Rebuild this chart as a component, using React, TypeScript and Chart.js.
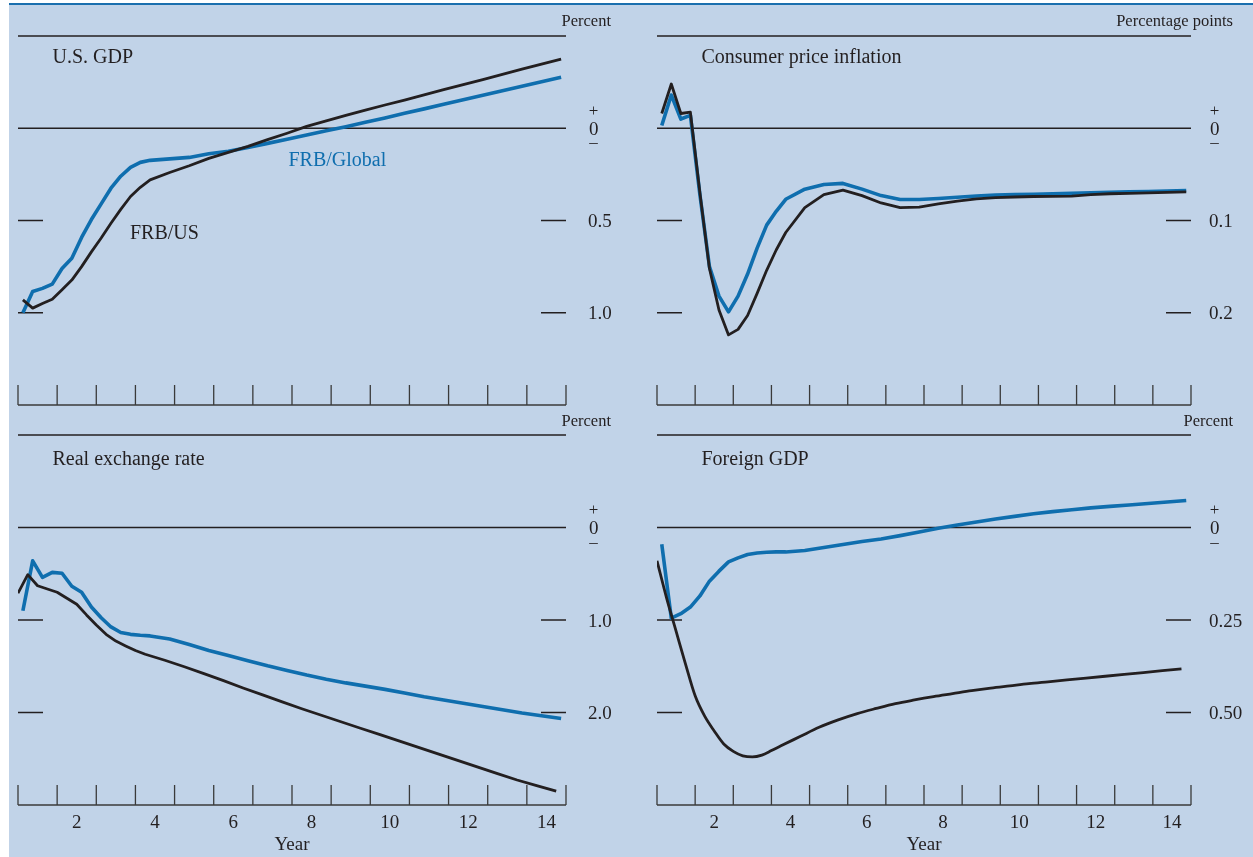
import React, { useEffect, useRef } from "react";
import { Chart, registerables } from "chart.js";

Chart.register(...registerables);

// ---------- data ----------
// quarterly early, then semi-annual sample points (years after shock)
const GRID_A = [
  0.625, 0.875, 1.125, 1.375, 1.625, 1.875, 2.125, 2.375, 2.625, 2.875, 3.125, 3.375, 3.625, 3.875,
  4.375, 4.875, 5.375, 5.875, 6.375, 6.875, 7.375, 7.875, 8.375, 8.875, 9.375, 9.875, 10.375,
  10.875, 11.375, 11.875, 12.375, 12.875, 13.375, 13.875, 14.375,
];
const GRID_B = [
  0.5, 0.75, 1.0, 1.25, 1.5, 1.75, 2.0, 2.25, 2.5, 2.75, 3.0, 3.25, 3.5, 3.75,
  4.25, 4.75, 5.25, 5.75, 6.25, 6.75, 7.25, 7.75, 8.25, 8.75, 9.25, 9.75, 10.25,
  10.75, 11.25, 11.75, 12.25, 12.75, 13.25, 13.75, 14.25,
];

const X_TICKS = [0.5, 1.5, 2.5, 3.5, 4.5, 5.5, 6.5, 7.5, 8.5, 9.5, 10.5, 11.5, 12.5, 13.5, 14.5];
const YEAR_LABELS = [2, 4, 6, 8, 10, 12, 14];

const US_GDP_FRBUS = [
  -0.93, -0.975, -0.95, -0.927, -0.875, -0.823, -0.75, -0.67, -0.595, -0.515, -0.44, -0.37, -0.32, -0.28,
  -0.24, -0.203, -0.163, -0.131, -0.098, -0.062, -0.027, 0.01, 0.04, 0.07, 0.098, 0.126, 0.153,
  0.181, 0.209, 0.237, 0.264, 0.292, 0.32, 0.348, 0.375,
];
const US_GDP_GLOBAL = [
  -1.0, -0.885, -0.868, -0.845, -0.76, -0.705, -0.592, -0.495, -0.41, -0.325, -0.26, -0.212, -0.185, -0.174,
  -0.166, -0.158, -0.138, -0.125, -0.104, -0.082, -0.059, -0.036, -0.014, 0.008, 0.032, 0.056, 0.081,
  0.105, 0.13, 0.155, 0.179, 0.203, 0.228, 0.252, 0.276,
];

const CPI_FRBUS = [
  0.016, 0.048, 0.016, 0.0175, -0.07, -0.152, -0.197, -0.224, -0.218, -0.203, -0.179, -0.154, -0.132, -0.113,
  -0.086, -0.072, -0.067, -0.073, -0.081, -0.086, -0.0855, -0.082, -0.079, -0.0765, -0.0752, -0.0745, -0.074,
  -0.0738, -0.0735, -0.072, -0.071, -0.0705, -0.07, -0.0695, -0.069,
];
const CPI_GLOBAL = [
  0.003, 0.036, 0.01, 0.014, -0.072, -0.15, -0.182, -0.199, -0.182, -0.158, -0.13, -0.105, -0.09, -0.077,
  -0.066, -0.061, -0.0598, -0.066, -0.073, -0.0772, -0.0772, -0.0762, -0.0748, -0.0735, -0.0725, -0.072, -0.0715,
  -0.071, -0.0705, -0.07, -0.0695, -0.069, -0.0685, -0.068, -0.0675,
];

const RER_FRBUS = [
  -0.71, -0.51, -0.63, -0.665, -0.7, -0.765, -0.83, -0.945, -1.055, -1.155, -1.228, -1.28, -1.33, -1.37,
  -1.435, -1.505, -1.58, -1.655, -1.735, -1.81, -1.885, -1.96, -2.03, -2.1, -2.17, -2.24, -2.31,
  -2.38, -2.45, -2.52, -2.59, -2.66, -2.73, -2.79, -2.85,
];
const RER_GLOBAL = [
  -0.9, -0.36, -0.54, -0.485, -0.495, -0.635, -0.7, -0.86, -0.975, -1.075, -1.135, -1.155, -1.165, -1.172,
  -1.205, -1.265, -1.33, -1.385, -1.44, -1.495, -1.545, -1.595, -1.64, -1.68, -1.715, -1.75, -1.79,
  -1.83, -1.865, -1.9, -1.935, -1.97, -2.005, -2.035, -2.065,
];

const FGDP_FRBUS = [
  -0.09, -0.19, -0.28, -0.37, -0.455, -0.51, -0.55, -0.585, -0.605, -0.617, -0.62, -0.615, -0.603, -0.59,
  -0.565, -0.54, -0.52, -0.503, -0.489, -0.476, -0.466, -0.457, -0.449, -0.441, -0.434, -0.428, -0.422,
  -0.417, -0.412, -0.407, -0.402, -0.397, -0.392, -0.387, -0.382,
];
const FGDP_GLOBAL = [
  -0.045, -0.245, -0.233, -0.215, -0.185, -0.145, -0.118, -0.093, -0.082, -0.073, -0.069, -0.067, -0.066, -0.066,
  -0.062, -0.054, -0.046, -0.038, -0.031, -0.022, -0.012, -0.002, 0.007, 0.015, 0.023, 0.03, 0.037,
  0.043, 0.048, 0.053, 0.057, 0.061, 0.065, 0.069, 0.073,
];

const US_GDP_TICKS = [-0.5, -1.0];
const US_GDP_TICK_LABELS = ["0.5", "1.0"];
const CPI_TICKS = [-0.1, -0.2];
const CPI_TICK_LABELS = ["0.1", "0.2"];
const RER_TICKS = [-1.0, -2.0];
const RER_TICK_LABELS = ["1.0", "2.0"];
const FGDP_TICKS = [-0.25, -0.5];
const FGDP_TICK_LABELS = ["0.25", "0.50"];

// ---------- style ----------
const BG = "#c1d3e8";
const INK = "#231f20";
const AXIS = "#3a3a3a";
const BLUE = "#0f6eae";
const SERIF = "'Liberation Serif', 'Times New Roman', serif";

type Series = { xs: number[]; ys: number[]; color: string; width: number; smooth?: boolean };
type Note = { text: string; x: number; y: number; color: string };
type Panel = {
  title: string;
  unit: string;
  box: { left: number; top: number; width: number; height: number };
  pad: { left: number; right: number; top: number; bottom: number };
  yMin: number;
  yMax: number;
  ticks: number[];
  tickLabels: string[];
  labelOffset: number;
  unitOffset: number;
  titleOffset: number;
  titleDrop: number;
  unitRise: number;
  showYears: boolean;
  series: Series[];
  notes: Note[];
};

const PANELS: Panel[] = [
  {
    title: "U.S. GDP",
    unit: "Percent",
    box: { left: 8, top: 0, width: 622, height: 430 },
    pad: { left: 10, right: 64, top: 36, bottom: 25 },
    yMin: -1.5,
    yMax: 0.5,
    ticks: US_GDP_TICKS,
    tickLabels: US_GDP_TICK_LABELS,
    labelOffset: 22,
    unitOffset: 45,
    titleOffset: 34.5,
    titleDrop: 26.5,
    unitRise: 10,
    showYears: false,
    series: [
      { xs: GRID_A, ys: US_GDP_FRBUS, color: INK, width: 2.8 },
      { xs: GRID_A, ys: US_GDP_GLOBAL, color: BLUE, width: 3.6 },
    ],
    notes: [
      { text: "FRB/Global", x: 7.41, y: -0.205, color: BLUE },
      { text: "FRB/US", x: 3.36, y: -0.6, color: INK },
    ],
  },
  {
    title: "Consumer price inflation",
    unit: "Percentage points",
    box: { left: 630, top: 0, width: 623, height: 430 },
    pad: { left: 27, right: 62, top: 36, bottom: 25 },
    yMin: -0.3,
    yMax: 0.1,
    ticks: CPI_TICKS,
    tickLabels: CPI_TICK_LABELS,
    labelOffset: 18,
    unitOffset: 42,
    titleOffset: 44.5,
    titleDrop: 26.5,
    unitRise: 10,
    showYears: false,
    series: [
      { xs: GRID_A, ys: CPI_FRBUS, color: INK, width: 2.8 },
      { xs: GRID_A, ys: CPI_GLOBAL, color: BLUE, width: 3.6 },
    ],
    notes: [],
  },
  {
    title: "Real exchange rate",
    unit: "Percent",
    box: { left: 8, top: 405, width: 622, height: 452 },
    pad: { left: 10, right: 64, top: 30, bottom: 52 },
    yMin: -3,
    yMax: 1,
    ticks: RER_TICKS,
    tickLabels: RER_TICK_LABELS,
    labelOffset: 22,
    unitOffset: 45,
    titleOffset: 34.5,
    titleDrop: 29.5,
    unitRise: 9,
    showYears: true,
    series: [
      { xs: GRID_B, ys: RER_FRBUS, color: INK, width: 2.8 },
      { xs: GRID_A, ys: RER_GLOBAL, color: BLUE, width: 3.6 },
    ],
    notes: [],
  },
  {
    title: "Foreign GDP",
    unit: "Percent",
    box: { left: 630, top: 405, width: 623, height: 452 },
    pad: { left: 27, right: 62, top: 30, bottom: 52 },
    yMin: -0.75,
    yMax: 0.25,
    ticks: FGDP_TICKS,
    tickLabels: FGDP_TICK_LABELS,
    labelOffset: 18,
    unitOffset: 42,
    titleOffset: 44.5,
    titleDrop: 29.5,
    unitRise: 9,
    showYears: true,
    series: [
      { xs: GRID_B, ys: FGDP_FRBUS, color: INK, width: 2.8, smooth: true },
      { xs: GRID_A, ys: FGDP_GLOBAL, color: BLUE, width: 3.6 },
    ],
    notes: [],
  },
];

function makeFramePlugin(p: Panel) {
  const seg = (ctx: CanvasRenderingContext2D, x1: number, y1: number, x2: number, y2: number) => {
    ctx.beginPath();
    ctx.moveTo(x1, y1);
    ctx.lineTo(x2, y2);
    ctx.stroke();
  };
  return {
    id: "frame",
    beforeDatasetsDraw(chart: any) {
      const { ctx, chartArea: a, scales } = chart;
      const x = scales.x;
      const y = scales.y;
      ctx.save();
      ctx.lineCap = "butt";
      ctx.strokeStyle = INK;
      ctx.lineWidth = 1.5;
      seg(ctx, a.left, a.top, a.right, a.top);
      const y0 = y.getPixelForValue(0);
      seg(ctx, a.left, y0, a.right, y0);
      ctx.strokeStyle = AXIS;
      seg(ctx, a.left, a.bottom, a.right, a.bottom);
      ctx.lineWidth = 1.3;
      for (const t of X_TICKS) {
        const px = x.getPixelForValue(t);
        seg(ctx, px, a.bottom, px, a.bottom - 20);
      }
      ctx.strokeStyle = INK;
      ctx.lineWidth = 1.5;
      for (const v of p.ticks) {
        const py = y.getPixelForValue(v);
        seg(ctx, a.left, py, a.left + 25, py);
        seg(ctx, a.right - 25, py, a.right, py);
      }
      ctx.restore();
    },
    afterDraw(chart: any) {
      const { ctx, chartArea: a, scales } = chart;
      const x = scales.x;
      const y = scales.y;
      ctx.save();
      ctx.fillStyle = INK;
      // title
      ctx.font = `20px ${SERIF}`;
      ctx.textAlign = "left";
      ctx.textBaseline = "alphabetic";
      ctx.fillText(p.title, a.left + p.titleOffset, a.top + p.titleDrop);
      // unit
      ctx.font = `16.5px ${SERIF}`;
      ctx.textAlign = "right";
      ctx.fillText(p.unit, a.right + p.unitOffset, a.top - p.unitRise);
      // y labels
      const lx = a.right + p.labelOffset;
      ctx.font = `19px ${SERIF}`;
      ctx.textAlign = "left";
      p.ticks.forEach((v, i) => {
        ctx.fillText(p.tickLabels[i], lx, y.getPixelForValue(v) + 6.5);
      });
      const y0 = y.getPixelForValue(0);
      ctx.fillText("0", lx + 1, y0 + 6.5);
      ctx.font = `17px ${SERIF}`;
      ctx.textAlign = "center";
      ctx.fillText("+", lx + 5.5, y0 - 12.5);
      ctx.fillText("\u2013", lx + 5.5, y0 + 19);
      // x labels
      if (p.showYears) {
        ctx.font = `19px ${SERIF}`;
        ctx.textAlign = "center";
        for (const yr of YEAR_LABELS) {
          ctx.fillText(String(yr), x.getPixelForValue(yr), a.bottom + 23);
        }
        ctx.fillText("Year", (a.left + a.right) / 2, a.bottom + 45);
      }
      // series notes
      ctx.font = `20px ${SERIF}`;
      ctx.textAlign = "left";
      for (const n of p.notes) {
        ctx.fillStyle = n.color;
        ctx.fillText(n.text, x.getPixelForValue(n.x), y.getPixelForValue(n.y));
      }
      ctx.restore();
    },
  };
}

function PanelChart({ p }: { p: Panel }) {
  const ref = useRef<HTMLCanvasElement | null>(null);
  useEffect(() => {
    if (!ref.current) return;
    const chart = new Chart(ref.current, {
      type: "line",
      data: {
        datasets: p.series.map((s) => ({
          data: s.xs.map((xv, i) => ({ x: xv, y: s.ys[i] })),
          borderColor: s.color,
          borderWidth: s.width,
          pointRadius: 0,
          fill: false,
          tension: 0,
          cubicInterpolationMode: s.smooth ? "monotone" : "default",
          borderJoinStyle: "round",
          borderCapStyle: "butt",
        })),
      } as any,
      options: {
        animation: false,
        responsive: false,
        events: [],
        layout: { padding: p.pad },
        plugins: { legend: { display: false }, tooltip: { enabled: false } },
        scales: {
          x: { type: "linear", min: 0.5, max: 14.5, display: false },
          y: { type: "linear", min: p.yMin, max: p.yMax, display: false },
        },
      } as any,
      plugins: [makeFramePlugin(p) as any],
    });
    return () => chart.destroy();
  }, [p]);
  return (
    <canvas
      ref={ref}
      width={p.box.width}
      height={p.box.height}
      style={{
        position: "absolute",
        left: p.box.left,
        top: p.box.top,
        width: p.box.width,
        height: p.box.height,
      }}
    />
  );
}

export default function App() {
  return (
    <div style={{ position: "fixed", left: 0, top: 0, width: 1253, height: 857, background: "#ffffff", overflow: "hidden" }}>
      <div
        style={{
          position: "absolute",
          left: 9,
          top: 3,
          width: 1244,
          height: 854,
          background: BG,
          borderTop: "2px solid #1a6fae",
          boxSizing: "border-box",
        }}
      />
      {PANELS.map((p, i) => (
        <PanelChart key={i} p={p} />
      ))}
    </div>
  );
}
